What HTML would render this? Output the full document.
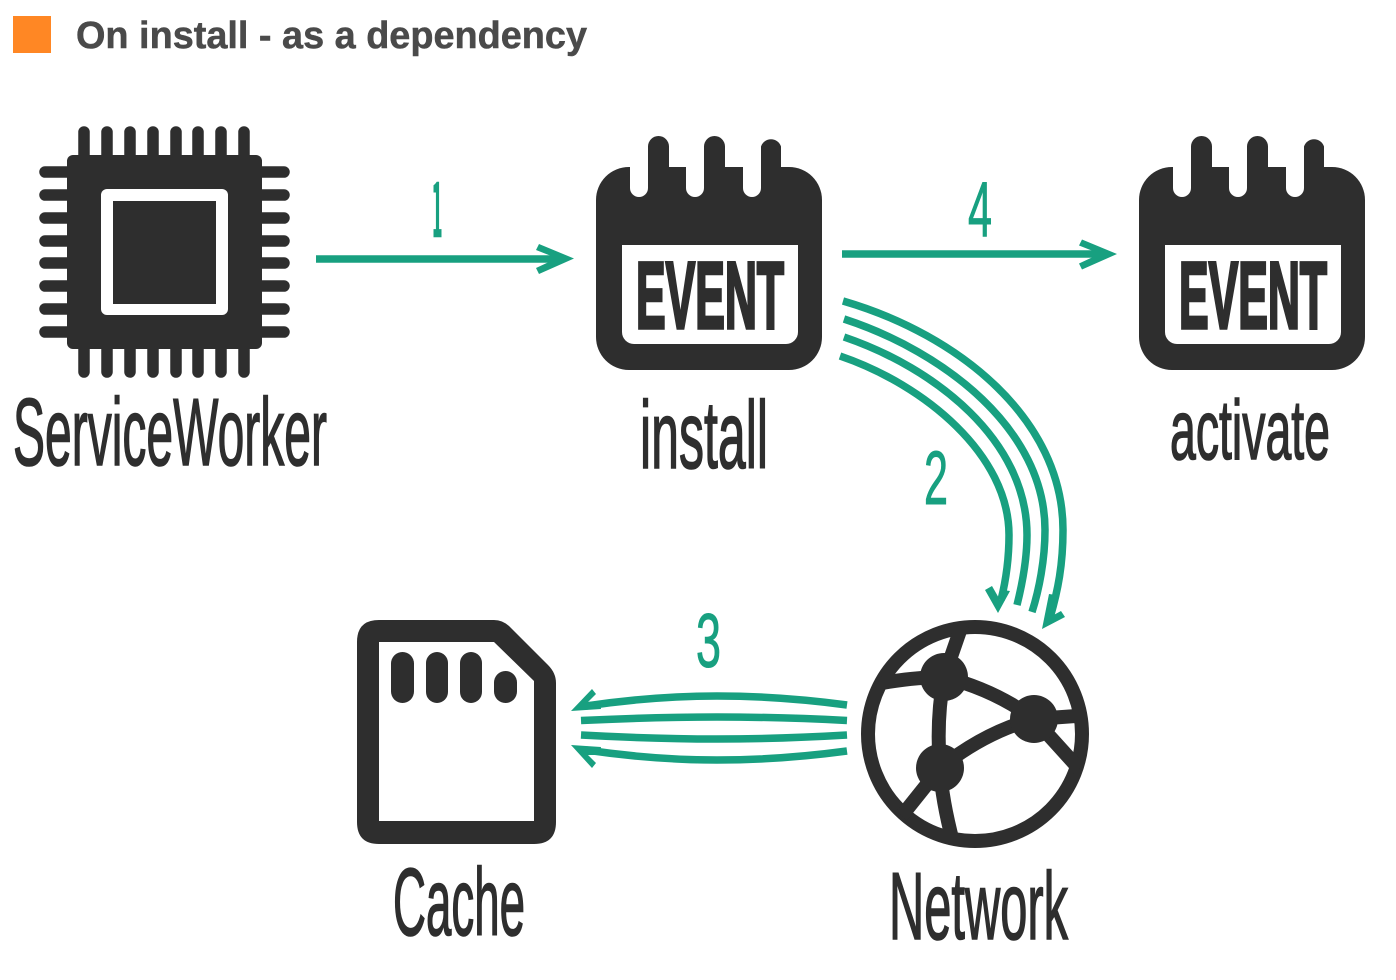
<!DOCTYPE html>
<html><head><meta charset="utf-8"><style>
html,body{margin:0;padding:0;background:#fff;width:1396px;height:980px;overflow:hidden}
svg{display:block}
.h{font-family:"Liberation Sans Narrow","Liberation Sans",sans-serif;fill:#2e2e2e;stroke:#2e2e2e;stroke-width:1.6}
.n{font-family:"Liberation Sans Narrow","Liberation Sans",sans-serif;fill:#18a080;stroke:#18a080;stroke-width:1}
.e{font-family:"Liberation Sans",sans-serif;font-weight:700;fill:#2e2e2e;stroke:#2e2e2e;stroke-width:3.6}
</style></head><body>
<svg width="1396" height="980" viewBox="0 0 1396 980" xmlns="http://www.w3.org/2000/svg">
<defs>
<g id="cal">
<rect x="596" y="167" width="226" height="203" rx="33" fill="#2e2e2e"/>
<path d="M648,167V146.500a10.500,10.500 0 0 1 21,0V167ZM704,167V146.500a10.500,10.500 0 0 1 21,0V167ZM761,167V146.500a10.500,10.500 0 0 1 20,0V167Z" fill="#2e2e2e"/>
<path d="M630,160H648V188a9,9 0 0 1 -18,0ZM686,160H704V188a9,9 0 0 1 -18,0ZM743,160H761V188a9,9 0 0 1 -18,0Z" fill="#fff"/>
<path d="M622,245H798V332a12,12 0 0 1 -12,12H634a12,12 0 0 1 -12,-12Z" fill="#fff"/>
</g>
<clipPath id="globe"><circle cx="975" cy="734" r="110"/></clipPath>
<clipPath id="one"><rect x="433.500" y="180" width="8" height="58"/></clipPath>
</defs>

<rect x="13" y="16" width="38" height="37" fill="#ff8724"/>
<text x="76" y="48" font-family="'Liberation Sans',sans-serif" font-weight="700" font-size="38" fill="#4a4a4a" stroke="#4a4a4a" stroke-width=".5" textLength="511" lengthAdjust="spacingAndGlyphs">On install - as a dependency</text>

<!-- chip -->
<g fill="#2e2e2e">
<g stroke="#2e2e2e" stroke-width="11.500" stroke-linecap="round">
<path d="M84,132V372M107,132V372M130,132V372M153,132V372M176,132V372M198,132V372M221,132V372M244,132V372"/>
<path d="M45,172H284M45,195H284M45,218H284M45,241H284M45,263H284M45,286H284M45,309H284M45,332H284"/>
</g>
<rect x="67" y="155" width="195" height="194" rx="6"/>
<rect x="101" y="189" width="127" height="126" rx="6" fill="#fff"/>
<rect x="113" y="201" width="103" height="103"/>
</g>

<!-- calendars -->
<use href="#cal"/>
<text class="e" x="636" y="328" font-size="95" textLength="148" lengthAdjust="spacingAndGlyphs">EVENT</text>
<use href="#cal" x="543"/>
<text class="e" x="1179" y="328" font-size="95" textLength="148" lengthAdjust="spacingAndGlyphs">EVENT</text>

<!-- cache -->
<path fill="#2e2e2e" fill-rule="evenodd" d="M379,620H494Q503,620 510,627L548,665Q556,673 556,683V822Q556,844 534,844H379Q357,844 357,822V642Q357,620 379,620ZM379,642V821H534V681L494,642Z"/>
<g fill="#2e2e2e">
<rect x="391" y="652" width="23" height="51" rx="11.500"/>
<rect x="426" y="652" width="22" height="51" rx="11"/>
<rect x="460" y="652" width="22" height="51" rx="11"/>
<rect x="494" y="671" width="23" height="32" rx="11.500"/>
</g>

<!-- network -->
<g fill="none" stroke="#2e2e2e">
<circle cx="975" cy="734" r="107" stroke-width="14"/>
<g stroke-width="14" clip-path="url(#globe)">
<path d="M944,677L962,625"/>
<path d="M944,677Q910,677 860,687"/>
<path d="M944,677Q995,690 1034,719"/>
<path d="M1034,719Q985,732 940,768"/>
<path d="M944,677Q936,720 940,768"/>
<path d="M1034,719L1090,715"/>
<path d="M1034,719L1082,772"/>
<path d="M940,768L900,818"/>
<path d="M940,768Q942,800 953,842"/>
</g>
</g>
<g fill="#2e2e2e">
<circle cx="944" cy="677" r="24"/>
<circle cx="1034" cy="719" r="24"/>
<circle cx="940" cy="768" r="24"/>
</g>

<!-- connectors -->
<g fill="none" stroke="#18a080" stroke-width="7.500">
<path d="M316,259H556"/>
<path d="M842,254H1098"/>
<path d="M843,301C960,335 1063,420 1063,530C1063,565 1058,590 1050,618"/>
<path d="M844,319C945,352 1045,430 1045,530C1045,560 1039,590 1032,612"/>
<path d="M844,337C935,368 1027,440 1027,535C1027,560 1022,585 1017,605"/>
<path d="M840,356C925,385 1009,455 1009,535C1009,560 1006,580 1001,600"/>
<path d="M847,705Q780,696 717,696T586,706"/>
<path d="M847,720.500Q780,717 717,717T581,720.500"/>
<path d="M847,735Q780,739 717,739T581,735"/>
<path d="M847,751Q780,760 717,760T586,750"/>
</g>
<g fill="#18a080">
<path d="M574,258.500L539,244L536,250L550,255.500V261.500L536,268L539,274Z"/>
<path d="M1117,254L1082,239.500L1079,245.500L1093,251V257L1079,263.500L1082,269.500Z"/>
<path d="M1042,629L1065,617L1061,611L1050,617L1056,595L1049,594Z"/>
<path d="M998,613L985,590L992,586L1000,600L1003,590L1010,591Z"/>
<path d="M571,711L592,689L596,694L588,702L600,701L601,709Z"/>
<path d="M571,745L592,768L596,763L588,755L600,755L601,747Z"/>
</g>

<!-- numbers -->
<g clip-path="url(#one)"><text x="430" y="236" font-family="'Noto Sans CJK JP','Liberation Sans',sans-serif" font-size="74" fill="#18a080" stroke="#18a080" stroke-width="2.500" textLength="14" lengthAdjust="spacingAndGlyphs">1</text></g>
<text class="n" x="968" y="236" font-size="78" textLength="24" lengthAdjust="spacingAndGlyphs">4</text>
<text class="n" x="924" y="504" font-size="76" textLength="24" lengthAdjust="spacingAndGlyphs">2</text>
<text class="n" x="696" y="667" font-size="76" textLength="25" lengthAdjust="spacingAndGlyphs">3</text>

<!-- labels -->
<text class="h" x="13" y="465" font-size="96" textLength="314" lengthAdjust="spacingAndGlyphs">ServiceWorker</text>
<text class="h" x="640" y="468" font-size="96" textLength="128" lengthAdjust="spacingAndGlyphs">install</text>
<text class="h" x="1170" y="459" font-size="84" textLength="160" lengthAdjust="spacingAndGlyphs">activate</text>
<text class="h" x="393" y="935" font-size="96" textLength="132" lengthAdjust="spacingAndGlyphs">Cache</text>
<text class="h" x="889" y="939" font-size="96" textLength="179" lengthAdjust="spacingAndGlyphs">Network</text>
</svg>
</body></html>
